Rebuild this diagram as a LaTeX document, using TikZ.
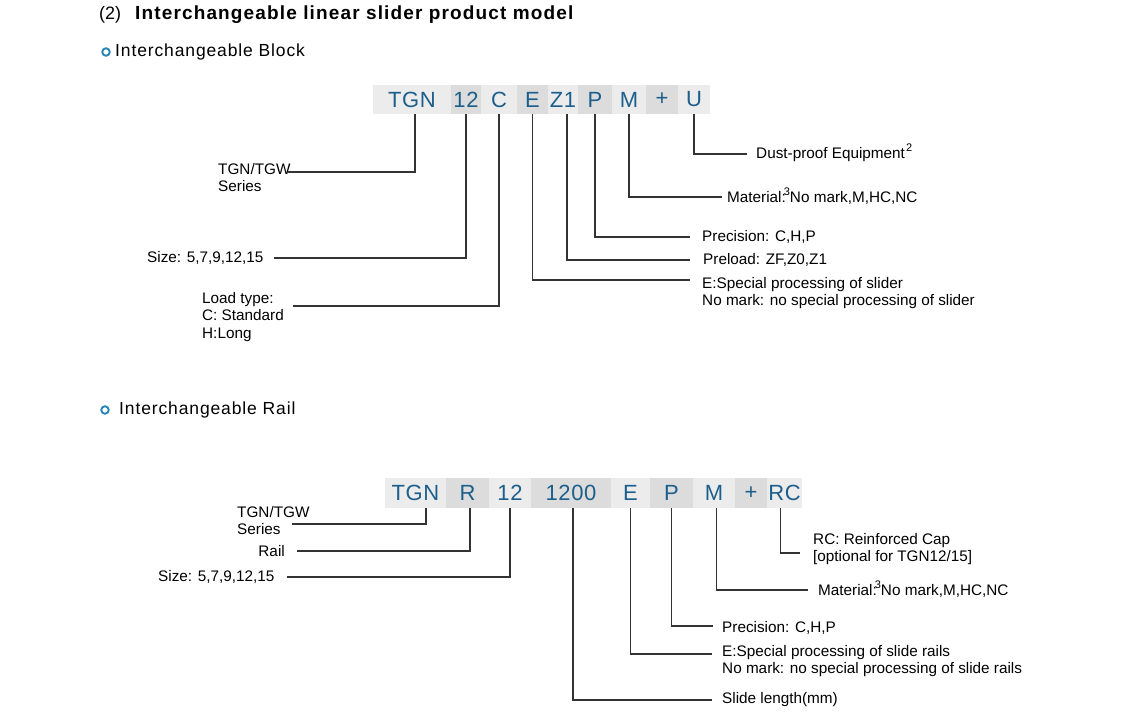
\documentclass[tikz,border=0pt]{standalone}
\usepackage{fontspec}
\setmainfont{Liberation Sans}
\usetikzlibrary{calc}
\definecolor{codeblue}{HTML}{1C5F8C}
\definecolor{bulletblue}{HTML}{2A86B6}
\definecolor{boxlight}{HTML}{ECECEC}
\definecolor{boxdark}{HTML}{DCDCDC}
\definecolor{linegray}{HTML}{333333}
\newcommand{\lblfont}{\fontsize{15.3}{17.5}\selectfont}
\newcommand{\supnum}[1]{\raisebox{7pt}{\fontsize{11}{11}\selectfont #1}}
\begin{document}
\begin{tikzpicture}[x=1pt,y=-1pt,
  seglight/.style={fill=boxlight,inner sep=0,minimum height=29pt,text=codeblue,font=\fontsize{22}{22}\selectfont\addfontfeature{LetterSpace=3}},
  segdark/.style={seglight,fill=boxdark},
  lbl/.style={inner sep=0,anchor=west,align=left,font=\lblfont},
  lblml/.style={inner sep=0,anchor=north west,align=left,font=\lblfont},
  conn/.style={draw=linegray,line width=1.3pt},
  bullet/.style={draw=bulletblue,line width=1.9pt,circle,inner sep=0,minimum size=7.5pt},
  heading/.style={inner sep=0,anchor=west,font=\fontsize{17.5}{17.5}\selectfont\addfontfeature{LetterSpace=5}}]
\useasboundingbox[fill=white] (0,0) rectangle (1140,720);

% ---------- headings ----------
\node[inner sep=0,anchor=west,font=\fontsize{18}{18}\selectfont] (num) at (99,15) {(2)};
\node[inner sep=0,anchor=west,font=\fontsize{19}{19}\selectfont\bfseries\addfontfeature{LetterSpace=6}] (title) at (135,15) {Interchangeable linear slider product model};
\node[bullet] (b1) at (106,52) {};
\node[heading] (hblock) at (115,52) {Interchangeable Block};
\node[bullet] (b2) at (105,410) {};
\node[heading] (hrail) at (119,410) {Interchangeable Rail};

% ---------- block code ----------
\node[seglight,minimum width=78pt] (kTGN) at (412,99.5) {TGN};
\node[segdark,minimum width=30pt]  (k12)  at (466,99.5) {12};
\node[seglight,minimum width=36pt] (kC)   at (499,99.5) {C};
\node[segdark,minimum width=31pt]  (kE)   at (532.5,99.5) {E};
\node[seglight,minimum width=30pt] (kZ)   at (563,99.5) {Z1};
\node[segdark,minimum width=34pt]  (kP)   at (595,99.5) {P};
\node[seglight,minimum width=34pt] (kM)   at (629,99.5) {M};
\node[segdark,minimum width=32pt]  (kPlus) at (662,99.5) {+};
\node[seglight,minimum width=32pt] (kU)   at (694,99.5) {U};

% block labels
\node[lblml] (lSeries) at (218,163) {TGN/TGW\\Series};
\coordinate (eSeries) at (288,172);
\node[lbl] (lSize) at (147,258) {Size: 5,7,9,12,15};
\node[lblml] (lLoad) at (202,292) {Load type:\\C: Standard\\H:Long};
\coordinate (eLoad) at (293,306);
\node[lblml] (lEs) at (702,277) {E:Special processing of slider\\No mark: no special processing of slider};
\coordinate (eEs) at (690,280);
\node[lbl] (lPre) at (703,260) {Preload: ZF,Z0,Z1};
\node[lbl] (lPrec) at (702,237) {Precision: C,H,P};
\node[lbl] (lMat) at (727,196) {Material:\kern-2pt\supnum{3}No mark,M,HC,NC};
\node[lbl] (lDust) at (756,153) {Dust-proof Equipment\kern1pt\supnum{2}};

\draw[conn] ([xshift=3pt]kTGN.south) |- (eSeries);
\draw[conn] (k12.south) |- ([xshift=10pt]lSize.east);
\draw[conn] (kC.south) |- (eLoad);
\draw[conn] (kE.south) |- (eEs);
\draw[conn] ([xshift=4pt]kZ.south) |- ([xshift=-13pt]lPre.west);
\draw[conn] (kP.south) |- ([xshift=-12pt]lPrec.west);
\draw[conn] (kM.south) |- ([xshift=-5pt,yshift=-1pt]lMat.west);
\draw[conn] (kU.south) |- ([xshift=-9pt,yshift=-1pt]lDust.west);

% ---------- rail code ----------
\node[seglight,minimum width=61pt,minimum height=30pt] (rTGN) at (415.5,493) {TGN};
\node[segdark,minimum width=43pt,minimum height=30pt]  (rR)   at (467.5,493) {R};
\node[seglight,minimum width=42pt,minimum height=30pt] (r12)  at (510,493) {12};
\node[segdark,minimum width=80pt,minimum height=30pt]  (r1200) at (571,493) {1200};
\node[seglight,minimum width=39pt,minimum height=30pt] (rE)   at (630.5,493) {E};
\node[segdark,minimum width=43pt,minimum height=30pt]  (rP)   at (671.5,493) {P};
\node[seglight,minimum width=42pt,minimum height=30pt] (rM)   at (714,493) {M};
\node[segdark,minimum width=32pt,minimum height=30pt]  (rPlus) at (751,493) {+};
\node[seglight,minimum width=35pt,minimum height=30pt] (rRC)  at (784.5,493) {RC};

% rail labels
\node[lblml] (rlSeries) at (237,506) {TGN/TGW\\Series};
\coordinate (erSeries) at (292,524);
\node[lbl,anchor=east] (rlRail) at (285,551) {Rail};
\node[lbl] (rlSize) at (158,577) {Size: 5,7,9,12,15};
\node[lblml] (rlRC) at (813,533) {RC: Reinforced Cap\\{[}optional for TGN12/15{]}};
\coordinate (erRC) at (800,553);
\node[lbl] (rlMat) at (818,589) {Material:\kern-2pt\supnum{3}No mark,M,HC,NC};
\node[lbl] (rlPrec) at (722,628) {Precision: C,H,P};
\node[lblml] (rlE) at (722,645) {E:Special processing of slide rails\\No mark: no special processing of slide rails};
\coordinate (erE) at (712,654);
\node[lbl] (rlLen) at (722,700) {Slide length(mm)};

\draw[conn] ([xshift=10.5pt]rTGN.south) |- (erSeries);
\draw[conn] ([xshift=2.5pt]rR.south) |- ([xshift=12pt]rlRail.east);
\draw[conn] (r12.south) |- ([xshift=12pt]rlSize.east);
\draw[conn] ([xshift=2pt]r1200.south) |- ([xshift=-10pt]rlLen.west);
\draw[conn] (rE.south) |- (erE);
\draw[conn] (rP.south) |- ([xshift=-9pt,yshift=2pt]rlPrec.west);
\draw[conn] ([xshift=2.5pt]rM.south) |- ([xshift=-10pt,yshift=-1pt]rlMat.west);
\draw[conn] ([xshift=-4pt]rRC.south) |- (erRC);
\end{tikzpicture}
\end{document}
